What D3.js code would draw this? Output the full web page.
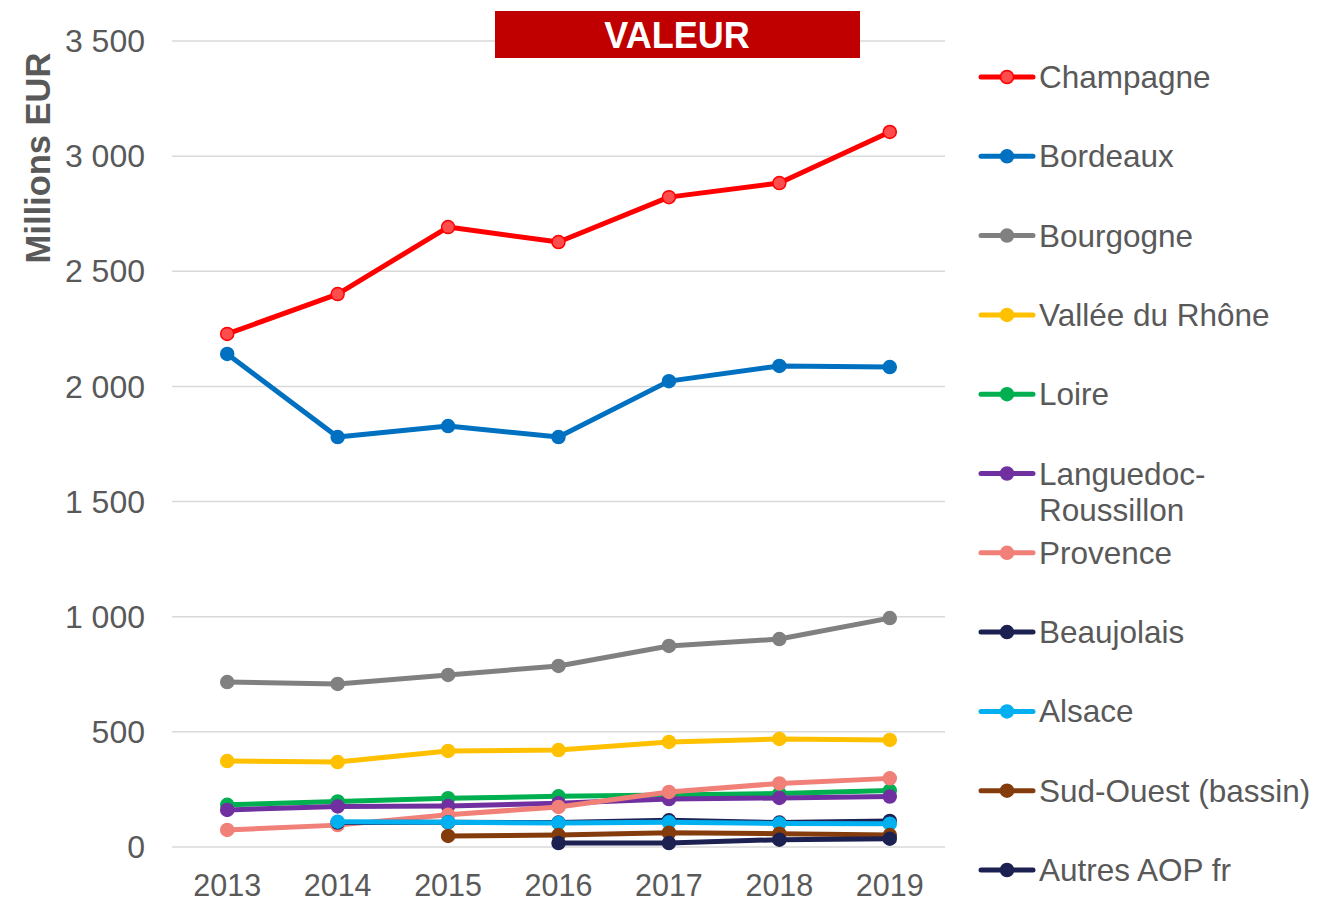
<!DOCTYPE html>
<html>
<head>
<meta charset="utf-8">
<script src="https://cdn.jsdelivr.net/npm/d3@7"></script>
<style>
  body { margin: 0; background: #fff; }
  svg { font-family: "Liberation Sans", Arial, sans-serif; }
</style>
</head>
<body>
<div id="chart"></div>
<script>
// years on the x axis
var years = ["2013", "2014", "2015", "2016", "2017", "2018", "2019"];
var yTicks = [0, 500, 1000, 1500, 2000, 2500, 3000, 3500];

// series values (Millions EUR), null = no data
var champagne  = [2228, 2401, 2692, 2627, 2822, 2883, 3105];
var bordeaux   = [2141, 1780, 1828, 1780, 2023, 2089, 2084];
var bourgogne  = [716, 708, 747, 786, 873, 903, 994];
var rhone      = [373, 369, 417, 421, 456, 469, 465];
var loire      = [183, 198, 212, 220, 226, 232, 245];
var languedoc  = [161, 176, 178, 190, 208, 213, 219];
var provence   = [74, 95, 140, 174, 239, 276, 298];
var beaujolais = [null, 106, 107, 106, 116, 106, 113];
var alsace     = [null, 110, 108, 104, 107, 102, 101];
var sudouest   = [null, null, 48, 52, 62, 58, 52];
var autres     = [null, null, null, 17, 17, 32, 36];

var seriesNames = ["Champagne", "Bordeaux", "Bourgogne", "Vallée du Rhône", "Loire",
  "Languedoc-Roussillon", "Provence", "Beaujolais", "Alsace", "Sud-Ouest (bassin)", "Autres AOP fr"];
var seriesValues = [champagne, bordeaux, bourgogne, rhone, loire, languedoc, provence,
  beaujolais, alsace, sudouest, autres];
var seriesColors = ["#ff0000", "#0070c0", "#808080", "#ffc000", "#00b050", "#7030a0",
  "#f08078", "#1c2152", "#00b0f0", "#843c0c", "#1c2152"];

var width = 1329, height = 901;
var margin = {top: 41, left: 172, right: 384, bottom: 54};

var svg = d3.select("#chart").append("svg")
  .attr("width", width)
  .attr("height", height);

var x = d3.scalePoint()
  .domain(years)
  .range([margin.left, width - margin.right])
  .padding(0.5);

var y = d3.scaleLinear()
  .domain([0, 3500])
  .range([height - margin.bottom, margin.top]);

// gridlines
svg.append("g")
  .selectAll("line")
  .data(yTicks)
  .join("line")
  .attr("x1", margin.left)
  .attr("x2", width - margin.right)
  .attr("y1", function(d) { return y(d); })
  .attr("y2", function(d) { return y(d); })
  .attr("stroke", "#d9d9d9")
  .attr("stroke-width", 1.5);

// y tick labels
var fmt = function(d) { return d3.format(",")(d).replace(/,/g, " "); };
svg.append("g")
  .selectAll("text")
  .data(yTicks)
  .join("text")
  .attr("x", 145)
  .attr("y", function(d) { return y(d); })
  .attr("dy", "0.35em")
  .attr("text-anchor", "end")
  .attr("font-size", "32px")
  .attr("fill", "#595959")
  .text(fmt);

// x tick labels
svg.append("g")
  .selectAll("text")
  .data(years)
  .join("text")
  .attr("x", function(d) { return x(d); })
  .attr("y", 896)
  .attr("text-anchor", "middle")
  .attr("font-size", "30.5px")
  .attr("fill", "#595959")
  .text(function(d) { return d; });

// axis title
svg.append("text")
  .attr("transform", "translate(38,158) rotate(-90)")
  .attr("dy", "0.35em")
  .attr("text-anchor", "middle")
  .attr("font-size", "34.5px")
  .attr("font-weight", "bold")
  .attr("fill", "#595959")
  .text("Millions EUR");

// lines + markers
var line = d3.line()
  .defined(function(d) { return d.v != null; })
  .x(function(d) { return x(d.year); })
  .y(function(d) { return y(d.v); });

seriesValues.forEach(function(vals, i) {
  var pts = vals.map(function(v, j) { return {year: years[j], v: v}; });
  var g = svg.append("g");
  g.append("path")
    .datum(pts)
    .attr("d", line)
    .attr("fill", "none")
    .attr("stroke", seriesColors[i])
    .attr("stroke-width", 5)
    .attr("stroke-linejoin", "round");
  g.selectAll("circle")
    .data(pts.filter(function(d) { return d.v != null; }))
    .join("circle")
    .attr("cx", function(d) { return x(d.year); })
    .attr("cy", function(d) { return y(d.v); })
    .attr("r", 6.5)
    .attr("fill", i === 0 ? "#ff4d4d" : seriesColors[i])
    .attr("stroke", seriesColors[i])
    .attr("stroke-width", 1.5);
});

// title box
svg.append("rect")
  .attr("x", 495)
  .attr("y", 11)
  .attr("width", 365)
  .attr("height", 47)
  .attr("fill", "#c00000");
svg.append("text")
  .attr("x", 677)
  .attr("y", 35)
  .attr("dy", "0.36em")
  .attr("text-anchor", "middle")
  .attr("font-size", "36px")
  .attr("font-weight", "bold")
  .attr("fill", "#ffffff")
  .text("VALEUR");

// legend
var legend = svg.append("g");
seriesNames.forEach(function(name, i) {
  var ly = 77 + i * 79.3;
  var lg = legend.append("g").attr("transform", "translate(0," + ly + ")");
  lg.append("line")
    .attr("x1", 981).attr("x2", 1033)
    .attr("stroke", seriesColors[i])
    .attr("stroke-width", 5)
    .attr("stroke-linecap", "round");
  lg.append("circle")
    .attr("cx", 1007).attr("r", 6.5)
    .attr("fill", i === 0 ? "#ff4d4d" : seriesColors[i])
    .attr("stroke", seriesColors[i])
    .attr("stroke-width", 1.5);
  var t = lg.append("text")
    .attr("x", 1039)
    .attr("dy", "0.35em")
    .attr("font-size", "31.5px")
    .attr("fill", "#595959");
  if (name === "Languedoc-Roussillon") {
    t.append("tspan").attr("x", 1039).text("Languedoc-");
    t.append("tspan").attr("x", 1039).attr("dy", "1.17em").text("Roussillon");
  } else {
    t.text(name);
  }
});
</script>
</body>
</html>
